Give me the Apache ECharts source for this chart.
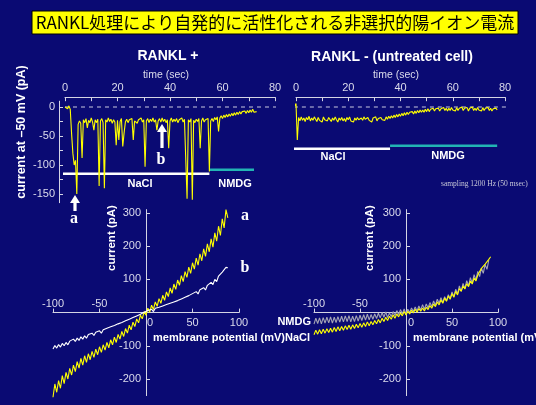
<!DOCTYPE html>
<html>
<head>
<meta charset="utf-8">
<script src="https://cdn.jsdelivr.net/npm/echarts@6/dist/echarts.min.js"></script>
<style>
  html, body { margin: 0; padding: 0; background: #0a0a73; }
  #chart { width: 536px; height: 405px; }
</style>
</head>
<body>
<div id="chart"></div>
<script>
// ---- data ----
// whole-cell current at -50 mV, RANKL-treated cell (pA), one sample per 0.5 s from t = 0
const plusT0 = 0, plusDt = 0.5;
const plusTrace = [
  0, 3, -3, 2, -4, -45, -80, -100, -92, -150,
  -30, -24, -28, -88, -22, -27, -20, -36, -23, -27,
  -19, -26, -40, -22, -27, -21, -136, -24, -20, -27,
  -140, -22, -26, -19, -25, -21, -28, -22, -26, -66,
  -23, -57, -25, -20, -68, -45, -26, -21, -27, -22,
  -25, -20, -57, -24, -21, -28, -22, -25, -19, -26,
  -22, -103, -24, -20, -27, -21, -25, -19, -26, -22,
  -40, -24, -20, -26, -19, -25, -21, -27, -22, -71,
  -24, -19, -26, -21, -25, -20, -27, -22, -25, -19,
  -26, -21, -24, -158, -22, -26, -20, -160, -23, -27,
  -21, -25, -20, -71, -24, -19, -26, -22, -25, -20,
  -111, -24, -20, -25, -18, -22, -17, -42, -19, -15,
  -20, -14, -18, -13, -17, -12, -16, -11, -15, -10,
  -14, -9, -13, -8, -12, -8, -11, -7, -11, -6,
  -10, -5, -9, -4, -9, -6, -8
];
// untreated cell, one sample per 0.5 s from t = -1.5
const minusT0 = -1.5, minusDt = 0.5;
const minusTrace = [
  4, 7, 2, 6, -57, -18, -24, -17, -23, -19,
  -25, -18, -22, -16, -24, -19, -23, -17, -21, -25,
  -18, -23, -20, -26, -17, -22, -19, -24, -18, -21,
  -25, -19, -23, -17, -22, -26, -19, -23, -18, -24,
  -20, -25, -18, -22, -17, -24, -21, -26, -19, -23,
  -18, -22, -25, -19, -23, -17, -21, -24, -18, -23,
  -20, -26, -19, -22, -17, -24, -20, -23, -18, -22,
  -19, -23, -17, -21, -16, -20, -15, -19, -14, -18,
  -13, -17, -12, -16, -11, -15, -10, -14, -9, -13,
  -9, -12, -8, -12, -7, -11, -6, -10, -5, -9,
  -5, -9, -4, -8, -3, -8, -4, -7, -2, -7,
  -3, -6, -2, -7, -3, -6, -1, -6, -2, -7,
  -2, -6, -1, -5, -3, -7, -1, -6, -2, -5,
  0, -6, -2, -5, -1, -7, -2, -5, 0, -6,
  -2, -6, -1, -5, -3, -7, -1, -6, -2, -5,
  -1, -6, -2, -7, -3, -6, -2, -5
];
// solution bars: [start s, end s, drawn at pA]
const plusNaClBar = [-2, 55, -115];
const plusNmdgBar = [55, 72, -108];
const minusNaClBar = [-2, 36, -72];
const minusNmdgBar = [36, 77, -67];

// I-V ramps, one sample per 2 mV from -100 mV
const ivV0 = -100, ivDv = 2;
const ivA = [
  -255, -215, -240, -205, -228, -190, -214, -180, -200, -168,
  -188, -158, -178, -148, -167, -138, -158, -130, -150, -124,
  -142, -117, -135, -110, -127, -103, -120, -97, -113, -90,
  -106, -82, -97, -74, -90, -66, -80, -57, -72, -48,
  -62, -38, -52, -29, -42, -19, -31, -8, -19, 3,
  -8, 13, 1, 22, 9, 32, 19, 42, 28, 52,
  37, 62, 48, 74, 58, 86, 70, 98, 82, 111,
  93, 123, 106, 137, 118, 150, 131, 164, 143, 177,
  156, 192, 169, 207, 183, 222, 197, 240, 215, 260,
  232, 282, 255, 310, 285
];
const ivB = [
  -110, -99, -107, -96, -104, -93, -100, -90, -97, -86,
  -90, -80, -87, -77, -84, -73, -80, -70, -77, -66,
  -72, -62, -69, -59, -65, -55, -62, -52, -58, -47,
  -53, -43, -49, -39, -45, -34, -40, -30, -36, -25,
  -30, -20, -25, -15, -20, -10, -15, -5, -10, 1,
  -4, 6, 0, 10, 3, 13, 7, 16, 10, 20,
  16, 24, 19, 28, 23, 32, 27, 36, 31, 41,
  36, 46, 40, 51, 45, 57, 51, 63, 56, 69,
  63, 75, 68, 82, 76, 91, 84, 100, 93, 110,
  104, 122, 117, 136, 135
];
const ivNaCl = [
  -67, -53, -65, -52, -64, -50, -62, -49, -60, -47,
  -59, -45, -57, -43, -55, -42, -53, -40, -51, -38,
  -50, -37, -48, -35, -46, -33, -44, -31, -42, -28,
  -40, -27, -37, -24, -34, -21, -31, -17, -27, -14,
  -24, -11, -20, -7, -17, -4, -13, -1, -10, 3,
  -7, 4, -4, 7, -1, 10, 1, 12, 4, 14,
  5, 16, 9, 21, 13, 26, 18, 32, 23, 38,
  28, 44, 34, 50, 40, 57, 46, 64, 53, 72,
  64, 80, 71, 87, 78, 95, 86, 104, 95, 113,
  116, 133, 127, 146, 140, 160, 168
];
const ivNmdg = [
  -35, -17, -33, -16, -34, -15, -32, -14, -31, -13,
  -32, -14, -30, -12, -29, -11, -28, -10, -27, -9,
  -28, -11, -27, -9, -26, -8, -24, -6, -23, -5,
  -22, -6, -20, -4, -18, -2, -16, 0, -14, 2,
  -15, -1, -12, 3, -9, 6, -6, 9, -4, 11,
  -5, 10, 0, 14, 3, 17, 5, 20, 8, 24,
  10, 26, 14, 30, 18, 35, 22, 40, 28, 45,
  30, 48, 35, 54, 42, 62, 48, 70, 56, 80,
  64, 88, 72, 96, 80, 105, 89, 114, 98, 124,
  108, 134, 118, 145, 130, 158
];

// axis ticks / labels
const traceYTicks = [0, -25, -50, -75, -100, -125, -150];
const traceYLabels = [0, -50, -100, -150];
const ivYTicks = [-200, -100, 100, 200, 300];
const ivXTicks = [-100, -50, 50, 100];
const ivXLabelsNeg = [-100, -50];
const ivXLabelsPos = [0, 50, 100];

// ---- styling ----
const BG = '#0a0a73';
const AXIS = '#d4d4e4';
const LABEL = '#dcdcec';
const YELLOW = '#ffff00';
const TEAL = '#22b4b4';
const SANS = '"Liberation Sans", Arial, sans-serif';
const SERIF = '"Liberation Serif", "Times New Roman", serif';

const traceY = { min: -165, max: 10 };
const ivX = { min: -100, max: 100 };
const ivY = { min: -250, max: 310 };
const ivGridH = 186;
// the I-V axes cross at (0, 0): shift them in from the grid edges
const ivXOffset = -ivGridH * (0 - ivY.min) / (ivY.max - ivY.min);
const ivYOffset = (w) => -w * (0 - ivX.min) / (ivX.max - ivX.min);

const toPairs = (vals, x0, dx) => vals.map((v, i) => [x0 + i * dx, v]);
const bar = (b) => [[b[0], b[2]], [b[1], b[2]]];

const axisLine = { show: true, onZero: false, lineStyle: { color: AXIS, width: 1 } };
const lbl = { color: LABEL, fontSize: 11, fontFamily: SANS };

function timeAxis(gridIndex) {
  return {
    type: 'value', gridIndex, position: 'top', offset: 4,
    min: 0, max: 80, interval: 10,
    axisLine, splitLine: { show: false },
    axisTick: { inside: true, length: 4, lineStyle: { color: AXIS } },
    axisLabel: { ...lbl, margin: 4, formatter: v => (v % 20 === 0 ? String(v) : '') }
  };
}

function ivAxes(gridIndex, zeroShift) {
  const rich = { z: { ...lbl, padding: [0, 0, 0, zeroShift] } };
  return [
    {
      type: 'value', gridIndex, min: ivX.min, max: ivX.max, position: 'bottom', offset: ivXOffset,
      axisLine, splitLine: { show: false },
      axisTick: { inside: true, length: 4, customValues: ivXTicks, lineStyle: { color: AXIS } },
      axisLabel: { ...lbl, margin: 5, customValues: ivXLabelsPos, rich,
                   formatter: v => (v === 0 ? '{z|0}' : String(v)) }
    },
    {
      type: 'value', gridIndex, min: ivX.min, max: ivX.max, position: 'bottom', offset: ivXOffset,
      axisLine: { show: false, onZero: false }, axisTick: { show: false }, splitLine: { show: false },
      axisLabel: { ...lbl, inside: true, margin: 3, customValues: ivXLabelsNeg }
    }
  ];
}

function ivYAxis(gridIndex, gridW) {
  return {
    type: 'value', gridIndex, min: ivY.min, max: ivY.max, position: 'left', offset: ivYOffset(gridW),
    axisLine, splitLine: { show: false },
    axisTick: { inside: true, length: 4, customValues: ivYTicks, lineStyle: { color: AXIS } },
    axisLabel: { ...lbl, margin: 5, customValues: ivYTicks }
  };
}

function line(data, xAxisIndex, yAxisIndex, color, width, extra) {
  return Object.assign({
    type: 'line', data, xAxisIndex, yAxisIndex, showSymbol: false, symbol: 'none',
    silent: true, animation: false,
    lineStyle: { color, width }
  }, extra || {});
}

function txt(x, y, text, opt) {
  return {
    type: 'text', x, y, rotation: (opt && opt.rotation) || 0, silent: true,
    style: Object.assign({
      text, fill: '#ffffff', font: 'bold 11px ' + SANS,
      align: 'center', verticalAlign: 'middle'
    }, opt && opt.style)
  };
}

function upArrow(x, tip, tail) {
  return {
    type: 'polygon', silent: true,
    shape: { points: [[x, tip], [x + 5, tip + 8], [x + 1.6, tip + 8], [x + 1.6, tail],
                      [x - 1.6, tail], [x - 1.6, tip + 8], [x - 5, tip + 8]] },
    style: { fill: '#ffffff' }
  };
}

const chart = echarts.init(document.getElementById('chart'), null, { renderer: 'canvas' });

const gridBase = { containLabel: false, outerBoundsMode: 'none', show: false };
const dashed = { color: '#c8c8e0', width: 1, type: [4, 4] };

chart.setOption({
  backgroundColor: BG,
  animation: false,
  textStyle: { fontFamily: SANS },
  grid: [
    { ...gridBase, left: 65, top: 101.2, width: 210, height: 101.5 },
    { ...gridBase, left: 296, top: 101.2, width: 209, height: 101.5 },
    { ...gridBase, left: 53, top: 209.6, width: 186, height: ivGridH },
    { ...gridBase, left: 314, top: 209.6, width: 184, height: ivGridH }
  ],
  xAxis: [
    timeAxis(0),
    timeAxis(1),
    ...ivAxes(2, 8),
    ...ivAxes(3, 10)
  ],
  yAxis: [
    {
      type: 'value', gridIndex: 0, min: traceY.min, max: traceY.max, offset: 6,
      axisLine, splitLine: { show: false },
      axisTick: { inside: true, length: 4, customValues: traceYTicks, lineStyle: { color: AXIS } },
      axisLabel: { ...lbl, margin: 4, customValues: traceYLabels }
    },
    { type: 'value', gridIndex: 1, min: traceY.min, max: traceY.max, show: false },
    ivYAxis(2, 186),
    ivYAxis(3, 184)
  ],
  series: [
    // RANKL +
    line([[0, 0], [88, 0]], 0, 0, '#c8c8e0', 1, { clip: false, z: 1, lineStyle: dashed }),
    line(bar(plusNaClBar), 0, 0, '#ffffff', 2.5, { clip: false }),
    line(bar(plusNmdgBar), 0, 0, TEAL, 2.5, { clip: false }),
    line(toPairs(plusTrace, plusT0, plusDt), 0, 0, YELLOW, 1.1, { clip: false, z: 3 }),
    // RANKL - (untreated)
    line([[-10, 0], [82, 0]], 1, 1, '#c8c8e0', 1, { clip: false, z: 1, lineStyle: dashed }),
    line(bar(minusNaClBar), 1, 1, '#ffffff', 2.5, { clip: false }),
    line(bar(minusNmdgBar), 1, 1, TEAL, 2.5, { clip: false }),
    line(toPairs(minusTrace, minusT0, minusDt), 1, 1, YELLOW, 1.1, { clip: false, z: 3 }),
    // I-V, RANKL + (xAxis 2/3 share grid 2)
    line(toPairs(ivA, ivV0, ivDv), 2, 2, YELLOW, 1.1, { clip: false, z: 3 }),
    line(toPairs(ivB, ivV0, ivDv), 2, 2, '#ffffff', 1.1, { clip: false, z: 4 }),
    // I-V, untreated (xAxis 4/5 share grid 3)
    line(toPairs(ivNmdg, ivV0, ivDv), 4, 3, '#a4a4b4', 1.1, { clip: false, z: 3 }),
    line(toPairs(ivNaCl, ivV0, ivDv), 4, 3, YELLOW, 1.1, { clip: false, z: 4 })
  ],
  graphic: [
    // slide title
    { type: 'rect', silent: true, shape: { x: 32, y: 11, width: 486, height: 23 },
      style: { fill: '#ffff00', stroke: '#000000', lineWidth: 1 } },
    txt(275, 23, 'RANKL処理により自発的に活性化される非選択的陽イオン電流',
        { style: { fill: '#000000', font: '17px "Noto Sans CJK JP", sans-serif' } }),
    // trace panels
    txt(168, 56, 'RANKL +', { style: { font: 'bold 14px ' + SANS } }),
    txt(392, 57, 'RANKL - (untreated cell)', { style: { font: 'bold 14px ' + SANS } }),
    txt(166, 75, 'time (sec)', { style: { font: '10.5px ' + SANS, fill: LABEL } }),
    txt(396, 75, 'time (sec)', { style: { font: '10.5px ' + SANS, fill: LABEL } }),
    txt(22, 132, 'current at –50 mV (pA)', { rotation: Math.PI / 2, style: { font: 'bold 12.5px ' + SANS } }),
    txt(140, 184, 'NaCl'),
    txt(235, 184, 'NMDG'),
    txt(333, 157, 'NaCl'),
    txt(448, 156, 'NMDG'),
    txt(441, 184, 'sampling 1200 Hz (50 msec)',
        { style: { font: '7.5px ' + SERIF, fill: '#c8c8d8', align: 'left' } }),
    upArrow(162, 124, 148),
    txt(161, 160, 'b', { style: { font: 'bold 16px ' + SERIF } }),
    upArrow(75, 195, 211),
    txt(74, 219, 'a', { style: { font: 'bold 16px ' + SERIF } }),
    // I-V panels
    txt(112, 238, 'current (pA)', { rotation: Math.PI / 2, style: { font: 'bold 11.5px ' + SANS } }),
    txt(370, 238, 'current (pA)', { rotation: Math.PI / 2, style: { font: 'bold 11.5px ' + SANS } }),
    txt(153, 338, 'membrane potential (mV)', { style: { align: 'left' } }),
    txt(413, 338, 'membrane potential (mV)', { style: { align: 'left' } }),
    txt(245, 216, 'a', { style: { font: 'bold 16px ' + SERIF } }),
    txt(245, 268, 'b', { style: { font: 'bold 16px ' + SERIF } }),
    txt(311, 322, 'NMDG', { style: { align: 'right' } }),
    txt(310, 338, 'NaCl', { style: { align: 'right' } })
  ]
});
</script>
</body>
</html>
